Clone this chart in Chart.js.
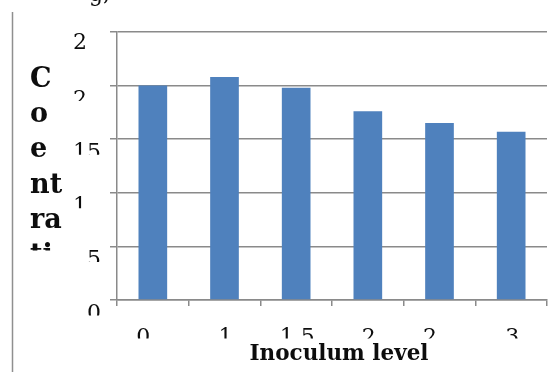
<!DOCTYPE html>
<html>
<head>
<meta charset="utf-8">
<script src="https://cdn.jsdelivr.net/npm/chart.js@4/dist/chart.umd.min.js"></script>
<style>
  html, body { margin: 0; padding: 0; background: #ffffff; }
  canvas { display: block; }
</style>
</head>
<body>
<canvas id="chart" width="558" height="372"></canvas>
<script>
// Inoculum levels and measured concentration per level
const categories = ['0.5', '1', '1.5', '2', '2.5', '3'];
const categoryText = ['0.', '1', '1.5', '2', '2.', '3'];   // portion of each label left visible in its box
const concentration = [20.0, 20.8, 19.8, 17.6, 16.5, 15.7];

// Value axis ticks and the visible part of each tick label
const yTicks = [0, 5, 10, 15, 20, 25];
const yTickText = ['0', '5', '1', '15', '2', '2'];

// Axis titles (the value-axis title is wrapped into a narrow box)
const yTitleLines = ['C', 'o', 'e', 'nt', 'ra', 'ti'];
const xTitle = 'Inoculum level';
const topFragment = 'g,';

const GRID = '#8a8a8a';
const BAR = '#4f81bd';
const TEXT = '#0d0d0d';

const labelPlugin = {
  id: 'clippedLabels',
  afterDraw(chart) {
    const ctx = chart.ctx;
    const xs = chart.scales.x;
    const ys = chart.scales.y;
    ctx.save();
    ctx.fillStyle = TEXT;
    ctx.textAlign = 'left';
    ctx.textBaseline = 'alphabetic';

    // frame line on the left
    ctx.strokeStyle = '#8f8f8f';
    ctx.lineWidth = 1.5;
    ctx.beginPath();
    ctx.moveTo(12.5, 12);
    ctx.lineTo(12.5, 372);
    ctx.stroke();

    // value-axis tick labels, right edge at a fixed column, clipped below
    ctx.font = '22px "DejaVu Serif"';
    const top = Math.max(...yTicks);
    yTicks.forEach((v, i) => {
      const py = ys.getPixelForValue(v);
      const full = String(v);
      const w = ctx.measureText(full).width;
      const x = 101 - w;
      ctx.save();
      if (v === top) {
        ctx.fillText(yTickText[i], x, py + 17);
      } else {
        ctx.beginPath();
        ctx.rect(0, py, 110, 15.5);
        ctx.clip();
        ctx.fillText(yTickText[i], x, py + 20);
      }
      ctx.restore();
    });

    // category labels, clipped below
    categories.forEach((c, i) => {
      const cx = xs.getPixelForValue(i);
      const w = ctx.measureText(c).width;
      ctx.save();
      ctx.beginPath();
      ctx.rect(cx - 40, 310, 80, 28.5);
      ctx.clip();
      ctx.fillText(categoryText[i], cx - w / 2 + 1, 344);
      ctx.restore();
    });

    // fragment of text above the plot
    ctx.fillText(topFragment, 89, 1);

    // category-axis title
    ctx.font = 'bold 21.5px "DejaVu Serif"';
    ctx.textAlign = 'center';
    ctx.fillText(xTitle, 339, 360);

    // value-axis title, wrapped and clipped at the bottom
    ctx.font = 'bold 27px "DejaVu Serif"';
    ctx.textAlign = 'left';
    ctx.save();
    ctx.beginPath();
    ctx.rect(20, 40, 60, 210.5);
    ctx.clip();
    yTitleLines.forEach((line, i) => {
      ctx.fillText(line, 30, 87 + i * 35.2);
    });
    ctx.restore();

    ctx.restore();
  }
};

new Chart(document.getElementById('chart'), {
  type: 'bar',
  data: {
    labels: categories,
    datasets: [{
      data: concentration,
      backgroundColor: BAR,
      borderWidth: 0,
      barPercentage: 0.4,
      categoryPercentage: 1.0
    }]
  },
  options: {
    responsive: false,
    animation: false,
    events: [],
    layout: { padding: { left: 0, top: 32, right: 11, bottom: 0 } },
    plugins: { legend: { display: false }, title: { display: false }, tooltip: { enabled: false } },
    scales: {
      x: {
        offset: true,
        grid: {
          offset: true,
          drawOnChartArea: false,
          drawTicks: true,
          tickLength: 6,
          color: GRID,
          lineWidth: 1.5
        },
        border: { display: true, color: GRID, width: 1.5 },
        ticks: { display: false },
        afterFit(scale) { scale.height = 72; }
      },
      y: {
        min: 0,
        max: 25,
        ticks: { display: false, stepSize: 5 },
        grid: {
          color: GRID,
          lineWidth: 1.5,
          drawTicks: true,
          tickLength: 7
        },
        border: { display: true, color: GRID, width: 1.5 },
        afterFit(scale) { scale.width = 117; }
      }
    }
  },
  plugins: [labelPlugin]
});
</script>
</body>
</html>
